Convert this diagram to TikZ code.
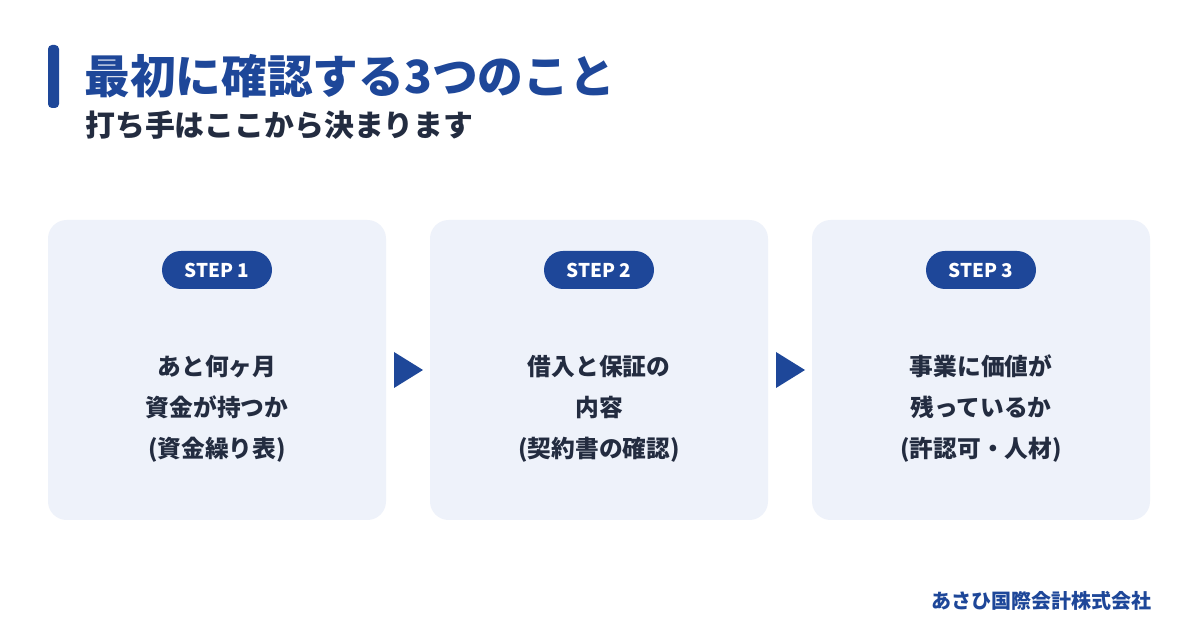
\documentclass[tikz,border=0pt]{standalone}
\usepackage{fontspec}
\setmainfont{Noto Sans CJK JP}
\setsansfont{Noto Sans CJK JP}
\definecolor{brand}{HTML}{1E4799}
\definecolor{ink}{HTML}{232C40}
\definecolor{card}{HTML}{EEF2FA}
\tikzset{
  cardbox/.style={fill=card, rounded corners=14pt, draw=none},
  pill/.style={fill=brand, rounded corners=14.25pt, minimum width=82.5pt, minimum height=28.5pt, inner sep=0pt, text=white, font=\bfseries\fontsize{14.2}{16}\selectfont},
  bodytxt/.style={text=ink, font=\bfseries\fontsize{17.8}{30.75}\selectfont, align=center},
  arrowtri/.style={fill=brand, draw=none},
}
\begin{document}
\begin{tikzpicture}[x=0.75pt,y=-0.75pt]
\useasboundingbox[fill=white] (0,0) rectangle (1200,630);
% accent bar
\fill[brand, rounded corners=3pt] (48,45) rectangle (59,108);
\node[anchor=west, inner sep=0pt, text=brand, font=\bfseries\fontsize{34.3}{38}\selectfont] (title) at (84,76) {最初に確認する3つのこと};
\node[anchor=west, inner sep=0pt, text=ink, font=\bfseries\fontsize{22.4}{25}\selectfont] (sub) at (85,125) {打ち手はここから決まります};
% cards
\foreach \i/\x in {1/48, 2/430, 3/812} {
  \fill[cardbox] (\x,220) rectangle ++(338,300);
  \node[pill] (pill\i) at (\x+169,270) {STEP \i};
}
\node[bodytxt] (t1) at (217,409) {あと何ヶ月\\資金が持つか\\(資金繰り表)};
\node[bodytxt] (t2) at (599,409) {借入と保証の\\内容\\(契約書の確認)};
\node[bodytxt] (t3) at (981,409) {事業に価値が\\残っているか\\(許認可・人材)};
% arrows
\fill[arrowtri] (394,352) -- (394,388) -- (423,370) -- cycle;
\fill[arrowtri] (776,352) -- (776,388) -- (805,370) -- cycle;
\node[anchor=east, inner sep=0pt, text=brand, font=\bfseries\fontsize{15}{17}\selectfont] (foot) at (1152,601) {あさひ国際会計株式会社};
\end{tikzpicture}
\end{document}
